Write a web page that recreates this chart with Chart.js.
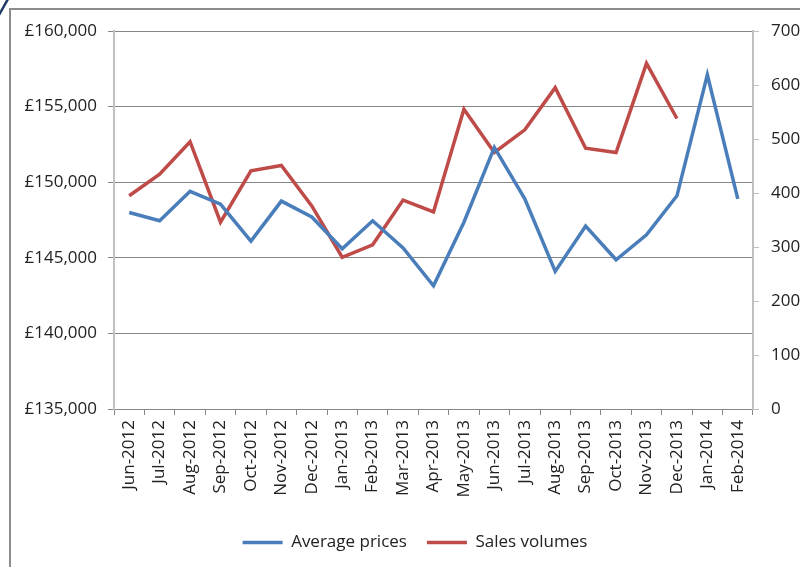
<!DOCTYPE html>
<html>
<head>
<meta charset="utf-8">
<script src="https://cdn.jsdelivr.net/npm/chart.js@4"></script>
<style>
    html, body { margin: 0; padding: 0; background: #fff; }
    #wrap { position: relative; width: 800px; height: 567px; overflow: hidden; }
    #frame { position: absolute; left: 9px; top: 8px; width: 820px; height: 600px;
             border-top: 2px solid #8c8c8c; border-left: 2px solid #8c8c8c; box-sizing: border-box; }
    canvas { position: absolute; left: 0; top: 0; }
</style>
</head>
<body>
<div id="wrap">
    <div id="frame"></div>
    <canvas id="priceChart" width="800" height="567"></canvas>
</div>
<script>
const months = ["Jun-2012", "Jul-2012", "Aug-2012", "Sep-2012", "Oct-2012", "Nov-2012", "Dec-2012",
    "Jan-2013", "Feb-2013", "Mar-2013", "Apr-2013", "May-2013", "Jun-2013", "Jul-2013",
    "Aug-2013", "Sep-2013", "Oct-2013", "Nov-2013", "Dec-2013", "Jan-2014", "Feb-2014"];

const averagePrices = [148000, 147450, 149400, 148550, 146100, 148750, 147700,
    145600, 147450, 145650, 143150, 147350, 152300, 148900,
    144100, 147100, 144870, 146520, 149100, 157100, 148900];

const salesVolumes = [395, 435, 495, 346, 441, 451, 376,
    281, 304, 387, 365, 555, 475, 517,
    595, 483, 475, 640, 538, null, null];

const priceTicks = { min: 135000, max: 160000, step: 5000 };
const volumeTicks = { min: 0, max: 700, step: 100 };

const font = { family: "'Open Sans', sans-serif", size: 17 };
const textColor = "#222";
const gridColor = "#868686";
const lightAxis = "#c0c0c0";

// little navy stroke in the top-left corner of the original
const cornerMark = {
    id: "cornerMark",
    afterDraw(chart) {
        const c = chart.ctx;
        c.save();
        c.strokeStyle = "#1f3864";
        c.lineWidth = 2.5;
        c.beginPath();
        c.moveTo(-1, 15);
        c.lineTo(8, -1);
        c.stroke();
        c.restore();
    }
};

// the legend in the original sits a bit right of the canvas centre
const legendShift = {
    id: "legendShift",
    afterLayout(chart) {
        if (chart.legend) {
            chart.legend.left += 15;
            chart.legend.right += 15;
        }
    }
};

new Chart(document.getElementById("priceChart").getContext("2d"), {
    type: "line",
    data: {
        labels: months,
        datasets: [{
            label: "Average prices",
            data: averagePrices,
            borderColor: "#4a7ebb",
            backgroundColor: "#4a7ebb",
            borderWidth: 3.5,
            pointRadius: 0,
            tension: 0,
            yAxisID: "y"
        }, {
            label: "Sales volumes",
            data: salesVolumes,
            borderColor: "#be4b48",
            backgroundColor: "#be4b48",
            borderWidth: 3.5,
            pointRadius: 0,
            tension: 0,
            yAxisID: "y1"
        }]
    },
    options: {
        responsive: false,
        animation: false,
        layout: { padding: { left: 0, right: 0, top: 31, bottom: 6 } },
        scales: {
            x: {
                offset: true,
                grid: {
                    offset: true,
                    drawOnChartArea: false,
                    drawTicks: true,
                    tickLength: 6,
                    tickColor: gridColor
                },
                border: { color: gridColor, width: 1 },
                ticks: {
                    font: font,
                    color: textColor,
                    minRotation: 90,
                    maxRotation: 90,
                    autoSkip: false,
                    padding: 5
                },
                afterFit(scale) { scale.height = 105; }
            },
            y: {
                position: "left",
                min: priceTicks.min,
                max: priceTicks.max,
                grid: {
                    color: gridColor,
                    tickLength: 6,
                    tickColor: gridColor
                },
                border: { color: lightAxis, width: 2 },
                ticks: {
                    stepSize: priceTicks.step,
                    font: font,
                    color: textColor,
                    padding: 11,
                    callback: v => "£" + v.toLocaleString("en-GB")
                },
                afterFit(scale) { scale.width = 114; }
            },
            y1: {
                position: "right",
                min: volumeTicks.min,
                max: volumeTicks.max,
                grid: {
                    drawOnChartArea: false,
                    tickLength: 6,
                    tickColor: lightAxis
                },
                border: { color: lightAxis, width: 2 },
                ticks: {
                    stepSize: volumeTicks.step,
                    font: font,
                    color: textColor,
                    padding: 12
                },
                afterFit(scale) { scale.width = 47; }
            }
        },
        plugins: {
            legend: {
                position: "bottom",
                labels: {
                    font: font,
                    color: textColor,
                    usePointStyle: true,
                    pointStyle: "line",
                    pointStyleWidth: 40,
                    boxHeight: 17,
                    padding: 20
                }
            },
            tooltip: { enabled: false }
        }
    },
    plugins: [cornerMark, legendShift]
});
</script>
</body>
</html>
